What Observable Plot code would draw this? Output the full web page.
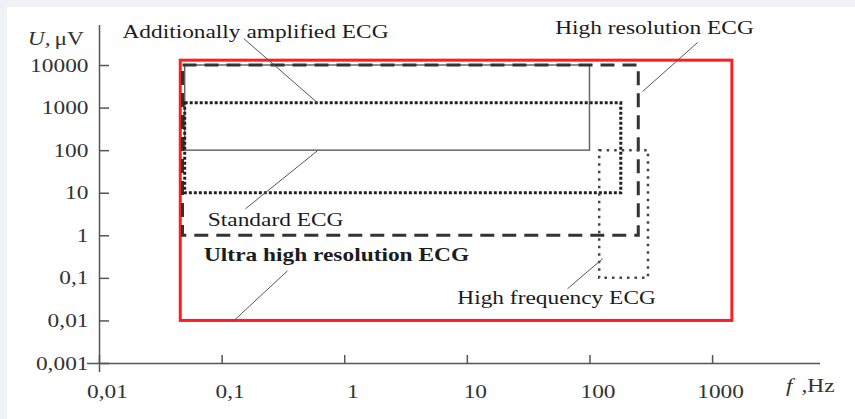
<!DOCTYPE html>
<html><head><meta charset="utf-8">
<script src="https://cdn.jsdelivr.net/npm/d3@7"></script>
<script src="https://cdn.jsdelivr.net/npm/@observablehq/plot@0.6"></script>
<style>
html,body{margin:0;padding:0;background:#eff1f4;}
#panel{position:absolute;left:7px;top:7px;width:848px;height:412px;background:#fff;overflow:hidden;}
</style></head><body><div id="panel"></div>
<script>
// Axis ticks and labels
const xTicks = [0.01, 0.1, 1, 10, 100, 1000];
const xTickLabels = ["0,01", "0,1", "1", "10", "100", "1000"];
const yTicks = [0.001, 0.01, 0.1, 1, 10, 100, 1000, 10000];
const yTickLabels = ["0,001", "0,01", "0,1", "1", "10", "100", "1000", "10000"];
const xTitle = ["f", ",Hz"];
const yTitle = ["U,", "μV"];

// ECG regions (frequency range in Hz, amplitude range in μV)
const regionNames = ["Ultra high resolution ECG", "High resolution ECG", "Standard ECG", "Additionally amplified ECG", "High frequency ECG"];
const fMin = [0.046, 0.048, 0.05, 0.05, 120];
const fMax = [1450, 250, 180, 100, 300];
const uMin = [0.01, 1, 10, 100, 0.1];
const uMax = [13000, 10000, 1300, 10000, 100];

// Annotation label anchors and leader lines (data units)
const labelF = [0.857, 336, 0.273, 0.187, 53.4];
const labelU = [0.357, 78300, 2.38, 63100, 0.0348];
const leaderF1 = [0.341, 755, 0.155, 0.15, 65.6];
const leaderU1 = [0.15, 34800, 4.3, 43000, 0.057];
const leaderF2 = [0.124, 268, 0.6, 0.6, 127];
const leaderU2 = [0.01, 2440, 100, 1330, 0.29];

const regions = regionNames.map((name, i) => ({
  name, x1: fMin[i], x2: fMax[i], y1: uMin[i], y2: uMax[i],
  lx: labelF[i], ly: labelU[i],
  ax: leaderF1[i], ay: leaderU1[i], bx: leaderF2[i], by: leaderU2[i]
}));
const pick = n => regions.filter(d => d.name === n);
const rectCh = {x1: "x1", x2: "x2", y1: "y1", y2: "y2", fill: "none", strokeLinejoin: "miter"};

const chart = Plot.plot({
  width: 848, height: 412,
  marginLeft: 92, marginRight: 35, marginTop: 18, marginBottom: 56,
  x: {type: "log", domain: [0.01, 10 ** 3.88]},
  y: {type: "log", domain: [0.001, 10 ** 4.94]},
  style: {fontFamily: "'Liberation Serif', 'Times New Roman', serif", fontSize: "19px", color: "#222", background: "transparent", overflow: "visible"},
  marks: [
    Plot.rect(pick("Ultra high resolution ECG"), {...rectCh, stroke: "#ff1e1e", strokeWidth: 3}),
    Plot.rect(pick("Additionally amplified ECG"), {...rectCh, stroke: "#666", strokeWidth: 1.5}),
    Plot.rect(pick("High resolution ECG"), {...rectCh, stroke: "#333", strokeWidth: 3, strokeDasharray: "14,8"}),
    Plot.rect(pick("Standard ECG"), {...rectCh, stroke: "#222", strokeWidth: 3, strokeDasharray: "3,2"}),
    Plot.rect(pick("High frequency ECG"), {...rectCh, stroke: "#444", strokeWidth: 2.5, strokeDasharray: "2.5,5"}),
    Plot.link(regions, {x1: "ax", y1: "ay", x2: "bx", y2: "by", stroke: "#555", strokeWidth: 1}),
    Plot.text(regions.filter(d => !d.name.startsWith("Ultra")), {x: "lx", y: "ly", text: "name", fontSize: 19, fill: "#1c1c1c"}),
    Plot.text(pick("Ultra high resolution ECG"), {x: "lx", y: "ly", text: "name", fontSize: 19, fontWeight: "bold", fill: "#1c1c1c"}),
    Plot.ruleX([xTicks[0]], {insetBottom: -9, stroke: "#555", strokeWidth: 1.5}),
    Plot.ruleY([yTicks[0]], {insetLeft: -12, stroke: "#555", strokeWidth: 1.5}),
    Plot.axisX({ticks: xTicks, tickSize: 8, dy: -8, tickFormat: () => "", label: null, stroke: "#555", strokeWidth: 1.5}),
    Plot.axisX({ticks: xTicks, tickSize: 0, tickPadding: 21, dx: 8, tickFormat: d => xTickLabels[xTicks.indexOf(d)], label: null, fontSize: 19, fill: "#333"}),
    Plot.axisY({ticks: yTicks, tickSize: 10, dx: 10, tickFormat: () => "", label: null, stroke: "#555", strokeWidth: 1.5}),
    Plot.axisY({ticks: yTicks, tickSize: 0, tickPadding: 11, tickFormat: d => yTickLabels[yTicks.indexOf(d)], label: null, fontSize: 19, fill: "#333"}),
    Plot.text([yTitle[0]], {text: d => d, frameAnchor: "top-left", dx: -49, dy: 6, textAnchor: "end", fontStyle: "italic", fontSize: 19, fill: "#333"}),
    Plot.text([yTitle[1]], {text: d => d, frameAnchor: "top-left", dx: -45, dy: 6, textAnchor: "start", fontSize: 19, fill: "#333"}),
    Plot.text([xTitle[0]], {text: d => d, frameAnchor: "bottom-right", dx: -28, dy: 28, textAnchor: "end", fontStyle: "italic", fontSize: 19, fill: "#333"}),
    Plot.text([xTitle[1]], {text: d => d, frameAnchor: "bottom-right", dx: -19, dy: 28, textAnchor: "start", fontSize: 19, fill: "#333"})
  ]
});
document.getElementById("panel").append(chart);
// The reference typography is a horizontally widened Times face
chart.querySelectorAll("text").forEach(t => {
  const w = t.getComputedTextLength();
  if (w > 0) {
    t.setAttribute("textLength", (w * 1.23).toFixed(1));
    t.setAttribute("lengthAdjust", "spacingAndGlyphs");
  }
});
</script></body></html>
